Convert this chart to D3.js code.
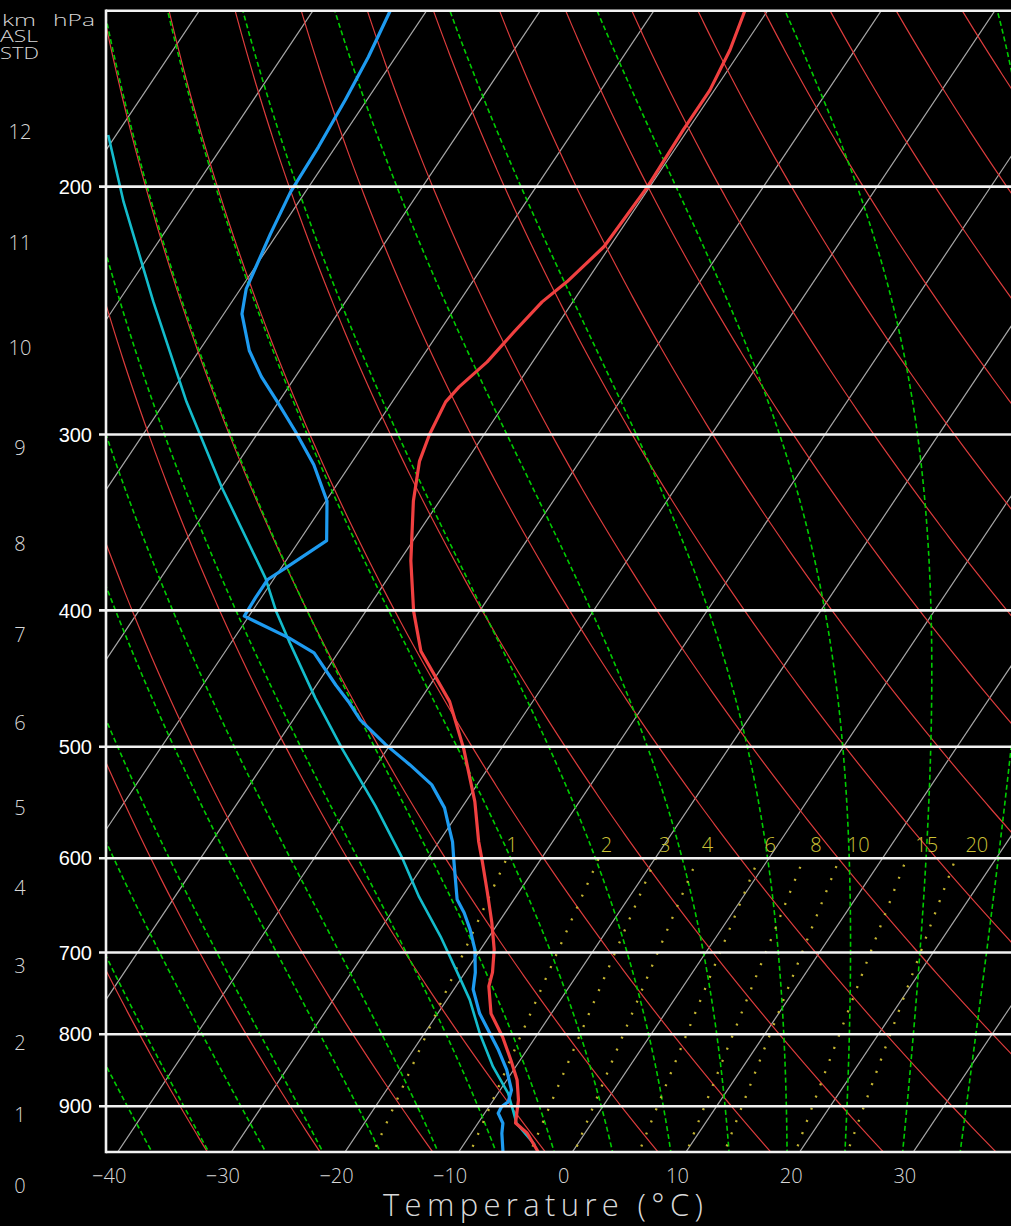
<!DOCTYPE html>
<html><head><meta charset="utf-8">
<script src="https://cdn.jsdelivr.net/npm/d3@7"></script>
<style>html,body{margin:0;padding:0;background:#000;} svg{display:block;}</style>
</head><body>
<svg id="chart" width="1011" height="1226"></svg>
<script>
// ---------------- data ----------------
const pressureLevels = [200, 300, 400, 500, 600, 700, 800, 900];
const pressureLabels = ["200", "300", "400", "500", "600", "700", "800", "900"];
const tempTicks = [-40, -30, -20, -10, 0, 10, 20, 30];
const tempTickLabels = ["\u221240", "\u221230", "\u221220", "\u221210", "0", "10", "20", "30"];
const kmLabels = ["0", "1", "2", "3", "4", "5", "6", "7", "8", "9", "10", "11", "12"];
const kmLabelPressure = [1025.5, 913, 811.6, 715.5, 629.8, 552.5, 480.7, 416.3, 358.7, 306.6, 260.3, 219.2, 182.8];

const isothermValues = [-110, -100, -90, -80, -70, -60, -50, -40, -30, -20, -10, 0, 10, 20, 30, 40];
const dryAdiabatTheta = [-30, -20, -10, 0, 10, 20, 30, 40, 50, 60, 70, 80, 90, 100, 110, 120, 130, 140, 150];
const moistAdiabatThetaW = [-35, -30, -25, -20, -15, -10, -5, 0, 5, 10, 15, 20, 25, 30, 35];
const mixingRatios = [1, 2, 3, 4, 6, 8, 10, 15, 20];
const mixingLabels = ["1", "2", "3", "4", "6", "8", "10", "15", "20"];

// temperature profile (hPa, °C)
const tempP = [970, 940.3, 925.1, 890.9, 862.2, 834.9, 803.7, 773.5, 739.7, 723, 696.4, 666.3, 633.8, 603.4, 584, 546.9, 501.5, 464.4, 427.6, 400.5, 368.9, 334.5, 313.5, 300, 284.4, 277.5, 266.4, 253.6, 241.5, 233.7, 220.6, 200, 182.3, 170.8, 159.9, 150];
const tempT = [-3.0, -5.1, -6.7, -7.8, -9.1, -10.8, -12.9, -15.3, -17.1, -17.6, -18.8, -20.6, -22.8, -25.0, -26.5, -29.2, -33.3, -37.3, -42.8, -45.8, -49.0, -52.3, -54.1, -54.8, -55.3, -55.0, -54.0, -53.4, -52.7, -51.7, -50.5, -50.2, -50.4, -50.4, -51.0, -52.0];

// dew point profile
const dewP = [970, 940.8, 925.5, 910.5, 900.7, 893.4, 876.5, 848.2, 821.0, 799.3, 773.5, 743.4, 723.2, 696.4, 674.0, 655.9, 641.8, 603.4, 584.0, 569.9, 552.5, 531.9, 514.8, 498.2, 478.4, 464.4, 451.9, 428.8, 418.4, 403.8, 391.9, 380.3, 373.1, 356.9, 334.5, 315.2, 298.4, 284.4, 272.9, 261.5, 246.3, 236.4, 226.9, 216.1, 201.8, 187.4, 173.6, 161.8, 150];
const dewT = [-6.1, -7.3, -7.8, -8.8, -8.9, -8.6, -9.0, -10.6, -12.5, -14.2, -16.3, -18.3, -19.1, -20.5, -22.1, -23.6, -25.0, -27.5, -28.8, -30.0, -31.5, -34.0, -37.1, -40.4, -44.1, -46.2, -48.3, -52.1, -55.2, -60.4, -60.5, -60.5, -59.6, -57.6, -59.9, -63.2, -66.8, -70.1, -73.0, -75.6, -78.4, -79.5, -80.0, -80.6, -81.3, -81.5, -81.9, -82.4, -83.2];

// parcel path
const parcelP = [959, 925.5, 905.6, 881.2, 843.7, 799.3, 756.0, 731.4, 681.6, 639.1, 600.4, 550.7, 501.5, 461.9, 420.6, 400.5, 379.3, 326.9, 284.4, 241.5, 205.1, 183.8];
const parcelT = [-3.7, -6.6, -7.7, -9.1, -12.0, -15.1, -18.0, -20.0, -24.3, -28.5, -32.2, -37.7, -44.0, -49.3, -55.0, -57.9, -60.8, -70.0, -78.1, -86.9, -95.4, -100.7];

// ---------------- layout ----------------
const W = 1011, H = 1226;
const pBottom = 970, pTop = 150;
const plotLeft = 106, plotRight = 1011, plotTop = 10.7, plotBottom = 1152;
const y = d3.scaleLog().domain([pBottom, pTop]).range([plotBottom, plotTop]);
const xT = d3.scaleLinear().domain([-40, 30]).range([117.7, 913.3]);
const skew = 0.669;
const X = (T, p) => xT(T) + skew * (y(pBottom) - y(p));
const lineTP = d3.line().x(d => X(d[0], d[1])).y(d => y(d[1]));

const svg = d3.select("#chart");
svg.append("rect").attr("width", W).attr("height", H).attr("fill", "#000");
svg.append("defs").append("clipPath").attr("id", "plotclip")
  .append("rect").attr("x", plotLeft).attr("y", plotTop)
  .attr("width", plotRight - plotLeft).attr("height", plotBottom - plotTop);

const g = svg.append("g").attr("clip-path", "url(#plotclip)");

// pressure grid for curves
const pGrid = d3.range(0, 401).map(i => 1000 * Math.pow(140 / 1000, i / 400));

// isotherms
g.append("g").selectAll("path").data(isothermValues).join("path")
  .attr("d", T => lineTP([[T, 1000], [T, 140]]))
  .attr("fill", "none").attr("stroke", "#a8a8a8").attr("stroke-width", 1.2);

// dry adiabats
const kappa = 0.2857;
g.append("g").selectAll("path").data(dryAdiabatTheta).join("path")
  .attr("d", th => lineTP(pGrid.map(p => [(th + 273.15) * Math.pow(p / 1000, kappa) - 273.15, p])))
  .attr("fill", "none").attr("stroke", "#dc3c3c").attr("stroke-width", 1.2);

// moist adiabats (pseudo-adiabatic integration)
function dTdp(T, p) {
  const Tc = T - 273.15;
  const es = 6.112 * Math.exp(17.67 * Tc / (Tc + 243.5));
  const rs = 0.622 * es / (p - es);
  const Rd = 287.04, Cp = 1005.7, Lv = 2.501e6;
  const num = Rd * T + Lv * rs;
  const den = Cp + Lv * Lv * rs * 0.622 / (Rd * T * T);
  return num / den / p;
}
function moistPath(thw) {
  let T = thw + 273.15, p = 1000;
  const pts = [[T - 273.15, p]];
  const dp = -2;
  while (p > 140) {
    const k1 = dTdp(T, p);
    const k2 = dTdp(T + 0.5 * dp * k1, p + 0.5 * dp);
    const k3 = dTdp(T + 0.5 * dp * k2, p + 0.5 * dp);
    const k4 = dTdp(T + dp * k3, p + dp);
    T += dp * (k1 + 2 * k2 + 2 * k3 + k4) / 6;
    p += dp;
    pts.push([T - 273.15, p]);
  }
  return pts;
}
g.append("g").selectAll("path").data(moistAdiabatThetaW).join("path")
  .attr("d", t => lineTP(moistPath(t)))
  .attr("fill", "none").attr("stroke", "#00cc00").attr("stroke-width", 1.6)
  .attr("stroke-dasharray", "5,3");

// mixing ratio lines
function tdFromW(w, p) {
  const e = w * p / (622 + w);
  const L = Math.log(e / 6.112);
  return 243.5 * L / (17.67 - L);
}
const mrGrid = d3.range(0, 61).map(i => 1000 * Math.pow(600 / 1000, i / 60));
g.append("g").selectAll("path").data(mixingRatios).join("path")
  .attr("d", w => lineTP(mrGrid.map(p => [tdFromW(w, p), p])))
  .attr("fill", "none").attr("stroke", "#c4b430").attr("stroke-width", 2.3)
  .attr("stroke-dasharray", "2,11");

// profiles
const parcel = parcelP.map((p, i) => [parcelT[i], p]);
const dew = dewP.map((p, i) => [dewT[i], p]);
const temp = tempP.map((p, i) => [tempT[i], p]);
g.append("path").attr("d", lineTP(parcel)).attr("fill", "none")
  .attr("stroke", "#14bccc").attr("stroke-width", 2.6).attr("stroke-linejoin", "round");
g.append("path").attr("d", lineTP(dew)).attr("fill", "none")
  .attr("stroke", "#1e9bf0").attr("stroke-width", 3.2).attr("stroke-linejoin", "round");
g.append("path").attr("d", lineTP(temp)).attr("fill", "none")
  .attr("stroke", "#f04040").attr("stroke-width", 3.2).attr("stroke-linejoin", "round");

// pressure lines and frame
const white = "#f2f2f2";
svg.append("g").selectAll("line").data(pressureLevels).join("line")
  .attr("x1", 99).attr("x2", plotRight)
  .attr("y1", p => y(p)).attr("y2", p => y(p))
  .attr("stroke", white).attr("stroke-width", 2.6);
svg.append("line").attr("x1", plotLeft).attr("x2", plotRight).attr("y1", y(pTop)).attr("y2", y(pTop))
  .attr("stroke", white).attr("stroke-width", 2.6);
svg.append("line").attr("x1", plotLeft).attr("x2", plotRight).attr("y1", y(pBottom)).attr("y2", y(pBottom))
  .attr("stroke", white).attr("stroke-width", 2.6);
svg.append("line").attr("x1", plotLeft).attr("x2", plotLeft).attr("y1", y(pTop) - 1.3).attr("y2", y(pBottom) + 1.3)
  .attr("stroke", white).attr("stroke-width", 2.6);

// mixing ratio labels
svg.append("g").selectAll("text").data(mixingRatios).join("text")
  .attr("x", w => X(tdFromW(w, 600), 600) + 3.4 * Math.log(w) - 0.5)
  .attr("y", 852)
  .attr("fill", "#ccc236")
  .attr("font-family", "'Open Sans', 'DejaVu Sans', sans-serif")
  .attr("font-weight", 300)
  .attr("font-size", 20)
  .text((w, i) => mixingLabels[i]);

// pressure labels
svg.append("g").selectAll("text").data(pressureLevels).join("text")
  .attr("x", 92).attr("y", p => y(p)).attr("dy", "0.36em")
  .attr("text-anchor", "end").attr("fill", "#ffffff")
  .attr("font-family", "'Liberation Sans', Arial, sans-serif")
  .attr("font-size", 20)
  .text((p, i) => pressureLabels[i]);

// km labels
const lightFont = "'Open Sans', 'DejaVu Sans', sans-serif";
svg.append("g").selectAll("text").data(kmLabelPressure).join("text")
  .attr("x", 20).attr("y", p => y(p)).attr("dy", "0.36em")
  .attr("text-anchor", "middle").attr("fill", "#d8d8d8")
  .attr("font-family", lightFont).attr("font-weight", 300).attr("font-size", 20)
  .text((p, i) => kmLabels[i]);

// corner header
const hdr = svg.append("g").attr("fill", "#d8d8d8").attr("font-family", lightFont)
  .attr("font-weight", 300).attr("font-size", 17);
hdr.append("text").attr("x", 2).attr("y", 26).attr("textLength", 34).attr("lengthAdjust", "spacingAndGlyphs").text("km");
hdr.append("text").attr("x", 53).attr("y", 26).attr("textLength", 42).attr("lengthAdjust", "spacingAndGlyphs").text("hPa");
hdr.append("text").attr("x", 0).attr("y", 42).attr("textLength", 38).attr("lengthAdjust", "spacingAndGlyphs").text("ASL");
hdr.append("text").attr("x", 0).attr("y", 59).attr("textLength", 39).attr("lengthAdjust", "spacingAndGlyphs").text("STD");

// temperature tick labels
svg.append("g").selectAll("text").data(tempTicks).join("text")
  .attr("x", T => xT(T) - 8.5).attr("y", 1183)
  .attr("text-anchor", "middle").attr("fill", "#d8d8d8")
  .attr("font-family", lightFont).attr("font-weight", 300).attr("font-size", 20)
  .text((T, i) => tempTickLabels[i]);

// axis title
svg.append("text").attr("x", 383).attr("y", 1216)
  .attr("textLength", 320).attr("lengthAdjust", "spacing")
  .attr("fill", "#d8d8d8").attr("font-family", lightFont).attr("font-weight", 300)
  .attr("font-size", 31)
  .text("Temperature (\u00B0C)");
</script>
</body></html>
